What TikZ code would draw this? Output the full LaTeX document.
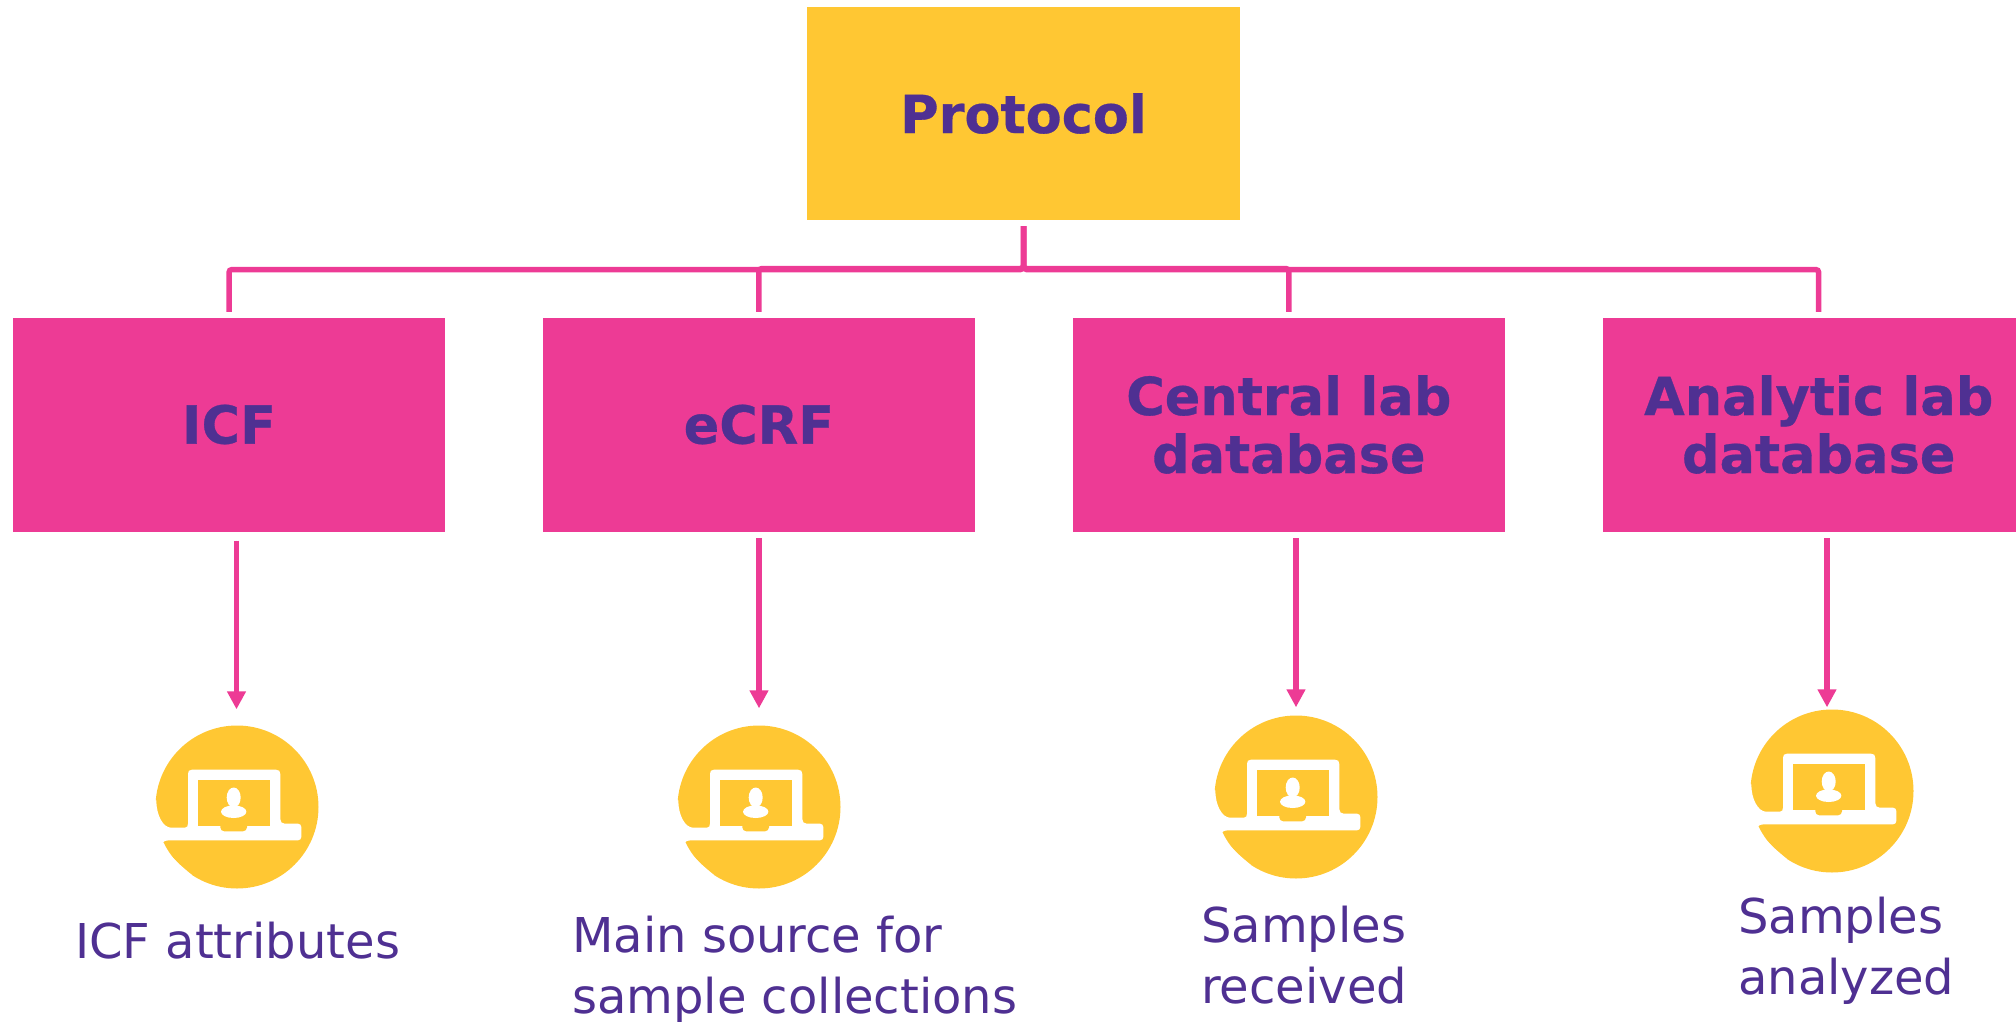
\documentclass[tikz,border=0pt]{standalone}
\usepackage{fontspec}
\setmainfont[BoldFeatures={FakeBold=0.6}]{DejaVu Sans}
\usepackage{xcolor}
\usetikzlibrary{positioning,arrows.meta}
\definecolor{protoyellow}{HTML}{FFC733}
\definecolor{linkpink}{HTML}{ED3B95}
\definecolor{textpurple}{HTML}{4F3092}

% white laptop and person on top of a yellow circle node
\newcommand{\laptopicon}[1]{%
  \begin{scope}[shift={(#1.center)}]
    \fill[white] (-90,-6.7) -- (-80.7,-6.7) .. controls (-80.7,8) and (-74,20.7) .. (-65.7,20.7)
      -- (-52,20.7) .. controls (-50,20.7) and (-49,19) .. (-49,16.7)
      -- (-49,-33) .. controls (-49,-36) and (-48,-37.3) .. (-45,-37.3)
      -- (39,-37.3) .. controls (42,-37.3) and (43.3,-36) .. (43.3,-33)
      -- (43.3,12) .. controls (43.3,15) and (45,16.7) .. (47.7,16.7)
      -- (61,16.7) .. controls (63,16.7) and (64.3,18) .. (64.3,20)
      -- (64.3,30) .. controls (64.3,32) and (63,33.3) .. (61,33.3)
      -- (-66,33.3) .. controls (-76,33.3) and (-77,37) .. (-73,41.5)
      -- (-60,55) .. controls (-58,57) and (-50,64) .. (-45,68) -- (-90,68) -- cycle;
    \fill[protoyellow] (-38.7,-26.7) rectangle (32.7,18.7);
    \fill[protoyellow, rounded corners=4pt] (-16.7,15) rectangle (10,24.3);
    \fill[white] (-3.3,-9.5) ellipse (7 and 10);
    \fill[white] (-3.3,4.7) ellipse (12.7 and 6.3);
  \end{scope}%
}

\begin{document}
\begin{tikzpicture}[
  x=1pt, y=-1pt,
  node distance=97.5pt,
  topbox/.style={rectangle, fill=protoyellow, text=textpurple, minimum width=433pt, minimum height=213pt, inner sep=0pt, align=center, font=\fontsize{52.5}{58}\selectfont\bfseries},
  block/.style={rectangle, fill=linkpink, text=textpurple, minimum width=432pt, minimum height=214pt, inner sep=0pt, align=center, font=\fontsize{52.5}{58}\selectfont\bfseries},
  iconbase/.style={circle, fill=protoyellow, minimum size=163pt, inner sep=0pt},
  note/.style={anchor=west, inner sep=0pt, align=left, text=textpurple, font=\fontsize{48}{61}\selectfont},
  link/.style={draw=linkpink, line width=5.5pt, rounded corners=3pt, shorten <=6pt, shorten >=5.5pt},
  arrow/.style={-{Triangle[width=18pt,length=18pt]}, draw=linkpink, fill=linkpink, line width=5.5pt}
]
  \useasboundingbox (0,0) rectangle (2016,1022);

  % Protocol
  \node[topbox] (protocol) at (1023.5,113.5) {Protocol};

  % Sources
  \node[block] (icf) at (229,424.5) {ICF};
  \node[block, right=of icf] (ecrf) {eCRF};
  \node[block, right=of ecrf] (central) {Central lab\\database};
  \node[block, right=of central] (analytic) {Analytic lab\\database};

  % Icons
  \node[iconbase] (iconicf) at (237,807) {};
  \node[iconbase] (iconecrf) at (759,807) {};
  \node[iconbase] (iconcentral) at (1296,797) {};
  \node[iconbase] (iconanalytic) at (1832,791) {};
  \laptopicon{iconicf}
  \laptopicon{iconecrf}
  \laptopicon{iconcentral}
  \laptopicon{iconanalytic}

  % Texts
  \node[note] (noteicf) at (75,941) {ICF attributes};
  \node[note] (noteecrf) at (572,970) {Main source for\\sample collections};
  \node[note] (notecentral) at (1201,955) {Samples\\received};
  \node[note] (noteanalytic) at (1738,951) {Samples\\analyzed};

  % Tree
  \coordinate (busouter) at (1023.5,269.5);
  \coordinate (businner) at (1023.5,268.5);
  \draw[link] (protocol.south) -- (busouter) -| (icf.north);
  \draw[link] (protocol.south) -- (businner) -| (ecrf.north);
  \draw[link] (protocol.south) -- (businner) -| (central.north);
  \draw[link] (protocol.south) -- (busouter) -| (analytic.north);

  % Arrows
  \draw[arrow, shorten <=9pt, shorten >=16pt] ([xshift=-0.5pt]icf.south -| iconicf) -- ([xshift=-0.5pt]iconicf.north);
  \draw[arrow, shorten <=6.5pt, shorten >=17pt] (ecrf.south -| iconecrf) -- (iconecrf);
  \draw[arrow, shorten <=6.5pt, shorten >=8pt] (central.south -| iconcentral) -- (iconcentral);
  \draw[arrow, shorten <=6.5pt, shorten >=2pt] ([xshift=-5pt]analytic.south -| iconanalytic) -- ([xshift=-5pt]iconanalytic.north);
\end{tikzpicture}
\end{document}
